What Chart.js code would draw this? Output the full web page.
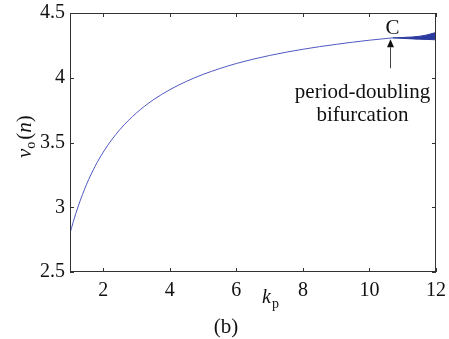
<!DOCTYPE html>
<html>
<head>
<meta charset="utf-8">
<script src="https://cdn.jsdelivr.net/npm/chart.js@4"></script>
<style>
    html, body { margin: 0; padding: 0; background: #fff; }
    #wrap { width: 449px; height: 339px; }
</style>
</head>
<body>
<div id="wrap"><canvas id="chart" width="449" height="339"></canvas></div>
<script>
// -- Data --
const kpMain = [1.0, 1.1, 1.25, 1.5, 1.75, 2.0, 2.25, 2.5, 2.75, 3.0, 3.25, 3.5, 4.0, 4.5, 5.0, 6.0, 7.0, 8.0, 9.0, 10.0, 10.7];
const voMain = [2.798, 2.889, 3.010, 3.178, 3.314, 3.426, 3.520, 3.600, 3.669, 3.729, 3.782, 3.829, 3.908, 3.972, 4.026, 4.110, 4.172, 4.220, 4.258, 4.290, 4.308];

// after point C the orbit splits in two branches
const kpBranch = [10.7, 11.0, 11.3, 11.5, 11.7, 11.85, 12.0];
const voUpper = [4.308, 4.311, 4.315, 4.320, 4.329, 4.339, 4.35];
const voLower = [4.308, 4.304, 4.300, 4.298, 4.296, 4.295, 4.293];

// point C (period-doubling bifurcation)
const cPointKp = 10.62;
const cPointVo = 4.305;

const xTicks = [2, 4, 6, 8, 10, 12];
const yTicks = [2.5, 3, 3.5, 4, 4.5];

const serif = "'Liberation Serif', 'Times New Roman', serif";

function toPoints(xs, ys) {
    return xs.map((x, i) => ({ x: x, y: ys[i] }));
}

// Box, inward ticks and the text labels
const framePlugin = {
    id: 'frame',
    afterDraw(chart) {
        const ctx = chart.ctx;
        const a = chart.chartArea;
        const xs = chart.scales.x;
        const ys = chart.scales.y;
        const tl = 4;
        ctx.save();
        ctx.strokeStyle = '#333';
        ctx.lineWidth = 1;
        ctx.strokeRect(a.left + 0.5, a.top + 0.5, a.right - a.left - 1, a.bottom - a.top - 1);
        ctx.beginPath();
        xTicks.forEach(v => {
            const px = Math.round(xs.getPixelForValue(v)) + 0.5;
            ctx.moveTo(px, a.bottom); ctx.lineTo(px, a.bottom - tl);
            ctx.moveTo(px, a.top); ctx.lineTo(px, a.top + tl);
        });
        yTicks.forEach(v => {
            const py = Math.round(ys.getPixelForValue(v)) + 0.5;
            ctx.moveTo(a.left, py); ctx.lineTo(a.left + tl, py);
            ctx.moveTo(a.right, py); ctx.lineTo(a.right - tl, py);
        });
        ctx.stroke();

        // point C and the arrow
        const cx = Math.round(xs.getPixelForValue(cPointKp)) + 0.5;
        const cy = ys.getPixelForValue(cPointVo);
        ctx.fillStyle = '#111';
        ctx.strokeStyle = '#444';
        ctx.beginPath();
        ctx.moveTo(cx, cy + 9);
        ctx.lineTo(cx, cy + 30);
        ctx.stroke();
        ctx.beginPath();
        ctx.moveTo(cx, cy + 1);
        ctx.lineTo(cx - 3.5, cy + 9);
        ctx.lineTo(cx + 3.5, cy + 9);
        ctx.closePath();
        ctx.fill();

        ctx.textAlign = 'center';
        ctx.textBaseline = 'middle';
        ctx.font = '21px ' + serif;
        ctx.fillText('C', cx + 2, cy - 10);
        ctx.fillText('period-doubling', cx - 28, cy + 54);
        ctx.fillText('bifurcation', cx - 28, cy + 77);

        // x axis title k_p
        ctx.textAlign = 'left';
        ctx.textBaseline = 'alphabetic';
        ctx.font = 'italic 20px ' + serif;
        ctx.fillText('k', 262, 303);
        ctx.font = '14px ' + serif;
        ctx.fillText('p', 272, 308);

        // caption
        ctx.textAlign = 'center';
        ctx.textBaseline = 'middle';
        ctx.font = '21px ' + serif;
        ctx.fillText('(b)', 226, 327);

        // y axis title v_o(n)
        ctx.translate(31, 135);
        ctx.rotate(-Math.PI / 2);
        ctx.textAlign = 'left';
        ctx.textBaseline = 'alphabetic';
        let x0 = -23;
        ctx.font = 'italic 21px ' + serif;
        ctx.fillText('v', x0, 0);
        x0 += ctx.measureText('v').width;
        ctx.font = '14px ' + serif;
        ctx.fillText('o', x0, 4);
        x0 += ctx.measureText('o').width + 2;
        ctx.font = '21px ' + serif;
        ctx.fillText('(', x0, 0);
        x0 += ctx.measureText('(').width;
        ctx.font = 'italic 21px ' + serif;
        ctx.fillText('n', x0, 0);
        x0 += ctx.measureText('n').width;
        ctx.font = '21px ' + serif;
        ctx.fillText(')', x0, 0);
        ctx.restore();
    }
};

const ctx = document.getElementById('chart').getContext('2d');
new Chart(ctx, {
    type: 'line',
    data: {
        datasets: [
            {
                label: 'main',
                data: toPoints(kpMain, voMain),
                borderColor: '#5058c0',
                borderWidth: 1,
                pointRadius: 0,
                cubicInterpolationMode: 'monotone'
            },
            {
                label: 'upper',
                data: toPoints(kpBranch, voUpper),
                borderColor: '#2b3a9e',
                backgroundColor: '#2b3a9e',
                borderWidth: 1,
                pointRadius: 0,
                fill: '+1',
                cubicInterpolationMode: 'monotone'
            },
            {
                label: 'lower',
                data: toPoints(kpBranch, voLower),
                borderColor: '#2b3a9e',
                borderWidth: 1,
                pointRadius: 0,
                cubicInterpolationMode: 'monotone'
            }
        ]
    },
    options: {
        responsive: false,
        animation: false,
        layout: { padding: { top: 13, right: 13, left: 0, bottom: 0 } },
        plugins: {
            legend: { display: false },
            tooltip: { enabled: false }
        },
        scales: {
            x: {
                type: 'linear',
                min: 1,
                max: 12,
                grid: { display: false, drawTicks: false },
                border: { display: false },
                afterBuildTicks: (scale) => { scale.ticks = xTicks.map(v => ({ value: v })); },
                afterFit: (scale) => {
                    scale.height = 67;
                    scale.paddingLeft = 0;
                    scale.paddingRight = 0;
                },
                ticks: {
                    color: '#111',
                    padding: 7,
                    maxRotation: 0,
                    font: { family: serif, size: 20 },
                    callback: (v) => String(v)
                }
            },
            y: {
                type: 'linear',
                min: 2.5,
                max: 4.5,
                grid: { display: false, drawTicks: false },
                border: { display: false },
                afterBuildTicks: (scale) => { scale.ticks = yTicks.map(v => ({ value: v })); },
                afterFit: (scale) => {
                    scale.width = 70;
                    scale.paddingTop = 0;
                    scale.paddingBottom = 0;
                },
                ticks: {
                    color: '#111',
                    padding: 5,
                    font: { family: serif, size: 20 },
                    callback: (v) => String(v)
                }
            }
        }
    },
    plugins: [framePlugin]
});
</script>
</body>
</html>
